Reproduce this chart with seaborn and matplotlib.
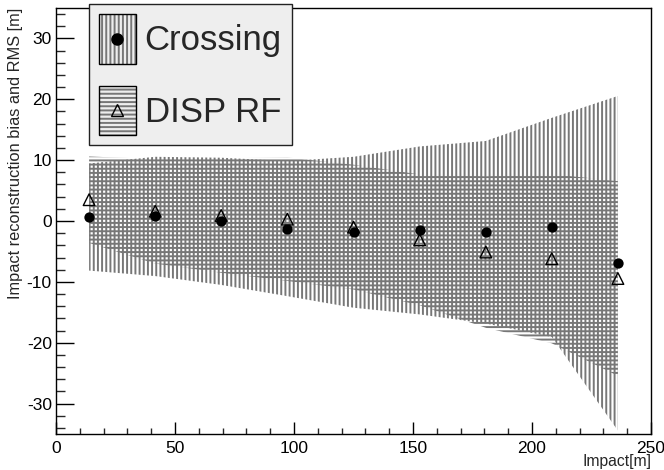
import matplotlib
matplotlib.use("Agg")
import matplotlib.pyplot as plt
from matplotlib.patches import Rectangle
from matplotlib.lines import Line2D
from matplotlib.legend_handler import HandlerTuple, HandlerLine2D
from matplotlib.ticker import MultipleLocator
import numpy as np
import pandas as pd
import seaborn as sns

# Bin centres of the impact distance [m]
impact = [13.9, 41.7, 69.4, 97.2, 125.0, 152.8, 180.6, 208.3, 236.1]

# Crossing method: mean bias and RMS of reconstructed impact [m]
cross_bias = [0.65, 0.75, -0.05, -1.25, -1.85, -1.55, -1.85, -1.05, -6.95]
cross_rms = [8.8, 9.8, 10.45, 11.1, 12.4, 13.8, 15.0, 18.0, 27.5]

# DISP random-forest method: mean bias and RMS [m]
disp_bias = [3.5, 1.6, 0.9, 0.3, -1.0, -3.1, -5.1, -6.2, -9.45]
disp_rms = [7.1, 8.6, 9.4, 10.15, 10.25, 10.75, 12.45, 13.9, 16.0]

methods = ["Crossing", "DISP RF"]

df = pd.DataFrame({
    "impact": impact * 2,
    "bias": cross_bias + disp_bias,
    "rms": cross_rms + disp_rms,
    "method": [methods[0]] * len(impact) + [methods[1]] * len(impact),
})

sns.set_theme(style="ticks")
plt.rcParams["font.family"] = ["Liberation Sans", "DejaVu Sans"]
plt.rcParams["hatch.linewidth"] = 1.4
plt.rcParams["axes.unicode_minus"] = False

hatch_col = "#777777"
hatches = {"Crossing": "||||", "DISP RF": "----"}

fig = plt.figure(figsize=(6.64, 4.70), dpi=100)
ax = fig.add_axes([56 / 664, 36 / 470, 595 / 664, 426 / 470])

# RMS bands (mean +/- RMS)
for name in methods:
    d = df[df["method"] == name]
    ax.fill_between(d["impact"], d["bias"] - d["rms"], d["bias"] + d["rms"],
                    facecolor="none", edgecolor=hatch_col, linewidth=0,
                    hatch=hatches[name], zorder=1)

# Mean bias markers
sns.scatterplot(data=df[df["method"] == "DISP RF"], x="impact", y="bias",
                marker="^", s=70, facecolor="none", edgecolor="black",
                linewidth=1.0, ax=ax, zorder=3, legend=False)
sns.scatterplot(data=df[df["method"] == "Crossing"], x="impact", y="bias",
                marker="o", s=55, color="black", edgecolor="black",
                linewidth=0, ax=ax, zorder=4, legend=False)

ax.set_xlim(0, 250)
ax.set_ylim(-35, 35)
ax.xaxis.set_major_locator(MultipleLocator(50))
ax.xaxis.set_minor_locator(MultipleLocator(10))
ax.yaxis.set_major_locator(MultipleLocator(10))
ax.yaxis.set_minor_locator(MultipleLocator(2))

for s in ax.spines.values():
    s.set_linewidth(1.0)
    s.set_color("black")

ax.tick_params(axis="y", which="major", direction="in", length=13, width=1.0,
               labelsize=12.5, pad=3, colors="black", right=False)
ax.tick_params(axis="y", which="minor", direction="in", length=6.5, width=1.0,
               right=False)
ax.tick_params(axis="x", which="major", direction="in", length=8.6, width=1.0,
               labelsize=12.5, pad=5, colors="black", top=False)
ax.tick_params(axis="x", which="minor", direction="in", length=4.3, width=1.0,
               top=False)

ax.set_xlabel("Impact[m]", fontsize=11.3)
ax.xaxis.set_label_coords(1.0, -20 / 426)
ax.xaxis.label.set_horizontalalignment("right")
ax.set_ylabel("Impact reconstruction bias and RMS [m]", fontsize=11.8,
              loc="top", labelpad=3)


class CenteredMarker(HandlerLine2D):
    """Place the legend marker in the middle of the (tall) legend box."""

    def create_artists(self, legend, orig_handle, xdescent, ydescent,
                       width, height, fontsize, trans):
        artists = super().create_artists(legend, orig_handle, xdescent,
                                         ydescent, width, height, fontsize,
                                         trans)
        for a in artists:
            a.set_ydata([height / 2 - ydescent] * len(a.get_xdata()))
        return artists


# Legend: hatched box with the marker on top
def band_handle(name, marker):
    face = "black" if marker == "o" else "none"
    return (Rectangle((0, 0), 1, 1, facecolor="none", edgecolor=hatch_col,
                      linewidth=0, hatch=hatches[name]),
            Rectangle((0, 0), 1, 1, facecolor="none", edgecolor="black",
                      linewidth=1.0),
            Line2D([], [], marker=marker, linestyle="none",
                   markerfacecolor=face, markeredgecolor="black",
                   markersize=8))

leg = fig.legend([band_handle("Crossing", "o"), band_handle("DISP RF", "^")],
                 methods,
                 handler_map={tuple: HandlerTuple(ndivide=1, pad=0),
                              Line2D: CenteredMarker()},
                 loc="upper left", bbox_to_anchor=(89 / 664, 1 - 4 / 470),
                 fontsize=25, handlelength=1.04, handleheight=1.8,
                 handletextpad=0.26, labelspacing=0.64, borderpad=0.3,
                 borderaxespad=0, fancybox=False, frameon=True)
leg.get_frame().set_facecolor("#eeeeee")
leg.get_frame().set_edgecolor("#222222")
leg.get_frame().set_linewidth(1.0)
leg.get_frame().set_alpha(1)

fig.savefig("out.png", dpi=100)
